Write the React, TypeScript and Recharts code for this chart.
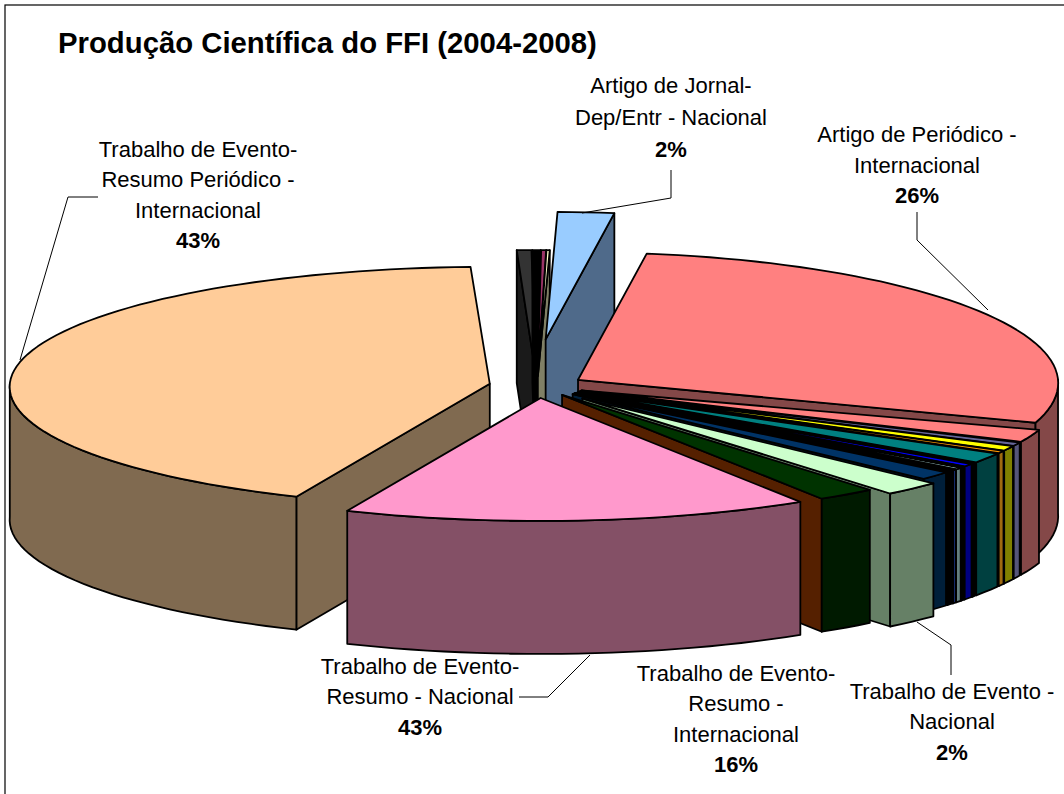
import { PieChart, Pie } from 'recharts';

// clockwise from the left edge of the big peach slice
const sliceValues = [42.9, 0.5, 0.28, 0.17, 0.11, 1.94, 27.94, 1.67, 0.47, 0.64, 0.33, 1.33, 0.17, 0.39, 0.17, 0.25, 0.14, 0.28, 1.11, 1.94, 1.94, 15.33];
const topColors = ['#FFCC99', '#333333', '#000000', '#993366', '#FFFFCC', '#99CCFF', '#FF8080', '#FF8080', '#666699', '#FFFF00', '#FF9900', '#008080', '#000000', '#0000FF', '#000000', '#CCFFFF', '#3366FF', '#000000', '#003366', '#CCFFCC', '#003300', '#FF99CC'];
const wallColors = ['#806A50', '#1A1A1A', '#000000', '#4D1A33', '#808066', '#4F6A8A', '#844848', '#844848', '#55557A', '#808000', '#A06A10', '#004040', '#000000', '#000080', '#000000', '#668080', '#1A3380', '#000000', '#001F3A', '#668066', '#001A00', '#845066'];
const cutColors: Record<number, string> = { 20: '#552000' };
const explodes = [0.1, 0.08, 0.08, 0.08, 0.08, 0.39, 0.1, 0.1, 0.1, 0.1, 0.1, 0.1, 0.1, 0.1, 0.1, 0.1, 0.1, 0.1, 0.1, 0.14, 0.09, 0.1];
// the back slices of the original rise a little higher than a plain ellipse
const rimLift = [1, 1.08, 1.08, 1.08, 1.08, 1.09, 1.09, 1, 1, 1, 1, 1, 1, 1, 1, 1, 1, 1, 1, 1, 1, 1];
const shiftX: Record<number, number> = { 5: -7.5 };

const title = 'Produção Científica do FFI (2004-2008)';
const labelLines: Record<number, string[]> = {
  0: ['Trabalho de Evento-', 'Resumo Periódico -', 'Internacional'],
  5: ['Artigo de Jornal-', 'Dep/Entr - Nacional'],
  6: ['Artigo de Periódico -', 'Internacional'],
  19: ['Trabalho de Evento -', 'Nacional'],
  20: ['Trabalho de Evento-', 'Resumo -', 'Internacional'],
  21: ['Trabalho de Evento-', 'Resumo - Nacional'],
};
const labelPercents: Record<number, string> = { 0: '43%', 5: '2%', 6: '26%', 19: '2%', 20: '16%', 21: '43%' };

// where each label block sits and how its leader runs
const labelCenters: Record<number, number[]> = { 0: [198, 156.5], 5: [671, 93], 6: [917, 142], 19: [952, 698.5], 20: [736, 680.5], 21: [420, 673.5] };
const labelSteps: Record<number, number> = { 5: 32 };
const leaders: Record<number, string> = {
  0: '98,197 68,197 20,360',
  5: '671,170 671,198 582,213',
  6: '917,212 917,240 988,310',
  19: '951,675 951,645 917,622',
  21: '519,697 548,697 590,655',
};

const data = sliceValues.map((value, i) => ({
  name: `slice${i}`,
  value,
  fill: topColors[i],
  wall: wallColors[i],
  cut: cutColors[i] || wallColors[i],
  explode: explodes[i],
  lift: rimLift[i],
  shift: shiftX[i] || 0,
  idx: i,
}));

const TILT = 0.25;
const PERSPECTIVE = 0.025;
const DEPTH = 133;
const FONT = '"Liberation Sans", Arial, sans-serif';
const RAD = Math.PI / 180;

function Slice3D(props: any) {
  const { cx, cy, outerRadius, startAngle, endAngle, midAngle, payload } = props;
  const slice = payload?.wall ? payload : props;
  const rx = outerRadius;
  const ry = outerRadius * TILT;
  const apexX = cx + rx * slice.explode * Math.cos(midAngle * RAD) + slice.shift;
  const apexY = cy - ry * slice.explode * Math.sin(midAngle * RAD);

  const rim = (deg: number): [number, number] => {
    const s = 1 - PERSPECTIVE * Math.sin(deg * RAD);
    return [apexX + rx * s * Math.cos(deg * RAD), apexY - ry * s * slice.lift * Math.sin(deg * RAD)];
  };
  const arc = (from: number, to: number) => {
    const steps = Math.max(2, Math.ceil(Math.abs(to - from) / 2));
    const pts: [number, number][] = [];
    for (let i = 0; i <= steps; i++) pts.push(rim(from + ((to - from) * i) / steps));
    return pts;
  };
  const toPath = (pts: [number, number][]) => pts.map(p => p.join(',')).join(' ');
  const radial = (deg: number) => {
    const [x, y] = rim(deg);
    return toPath([[apexX, apexY], [x, y], [x, y + DEPTH], [apexX, apexY + DEPTH]]);
  };

  // only the front half of the rim shows a wall
  const walls: [number, number][][] = [];
  for (let k = -1; k <= 1; k++) {
    const lo = Math.max(endAngle, -180 + 360 * k);
    const hi = Math.min(startAngle, 360 * k);
    if (hi > lo) walls.push(arc(lo, hi));
  }

  const startFaces = Math.cos(startAngle * RAD) < 0;
  const endFaces = Math.cos(endAngle * RAD) > 0;

  return (
    <g stroke="#000" strokeWidth={1.8} strokeLinejoin="round">
      {startFaces && <polygon points={radial(startAngle)} fill={slice.wall} />}
      {endFaces && <polygon points={radial(endAngle)} fill={slice.cut} />}
      {walls.map((pts, i) => (
        <polygon
          key={i}
          points={toPath([...pts, ...[...pts].reverse().map(([x, y]) => [x, y + DEPTH] as [number, number])])}
          fill={slice.wall}
        />
      ))}
      <polygon points={toPath([[apexX, apexY], ...arc(startAngle, endAngle)])} fill={slice.fill} />
    </g>
  );
}

function SliceLabel(props: any) {
  const idx = props.payload?.idx ?? props.idx ?? props.index;
  const lines = labelLines[idx];
  if (!lines) return <g />;
  const [x, y] = labelCenters[idx];
  const step = labelSteps[idx] || 30.5;
  return (
    <g>
      {leaders[idx] && <polyline points={leaders[idx]} fill="none" stroke="#000" strokeWidth={1} />}
      <text x={x} y={y} textAnchor="middle" fontFamily={FONT} fontSize={22} fill="#000">
        {lines.map((line, i) => (
          <tspan key={i} x={x} dy={i === 0 ? 0 : step}>{line}</tspan>
        ))}
        <tspan x={x} dy={step} fontWeight="bold">{labelPercents[idx]}</tspan>
      </text>
    </g>
  );
}

export default function App() {
  return (
    <div style={{ position: 'absolute', left: 0, top: 0, width: 1064, height: 794, overflow: 'hidden', background: '#fff' }}>
      <PieChart width={1064} height={794} margin={{ top: 0, right: 0, bottom: 0, left: 0 }}>
        <rect x={5} y={5} width={1100} height={830} fill="none" stroke="#000" strokeWidth={1.2} />
        <text x={58} y={53} fontFamily={FONT} fontSize={29.3} fontWeight="bold" fill="#000">{title}</text>
        <Pie
          data={data}
          dataKey="value"
          cx={537}
          cy={386}
          innerRadius={0}
          outerRadius={480}
          startAngle={246.8}
          endAngle={-113.2}
          paddingAngle={0}
          shape={Slice3D}
          label={SliceLabel}
          labelLine={false}
          isAnimationActive={false}
        />
      </PieChart>
    </div>
  );
}
